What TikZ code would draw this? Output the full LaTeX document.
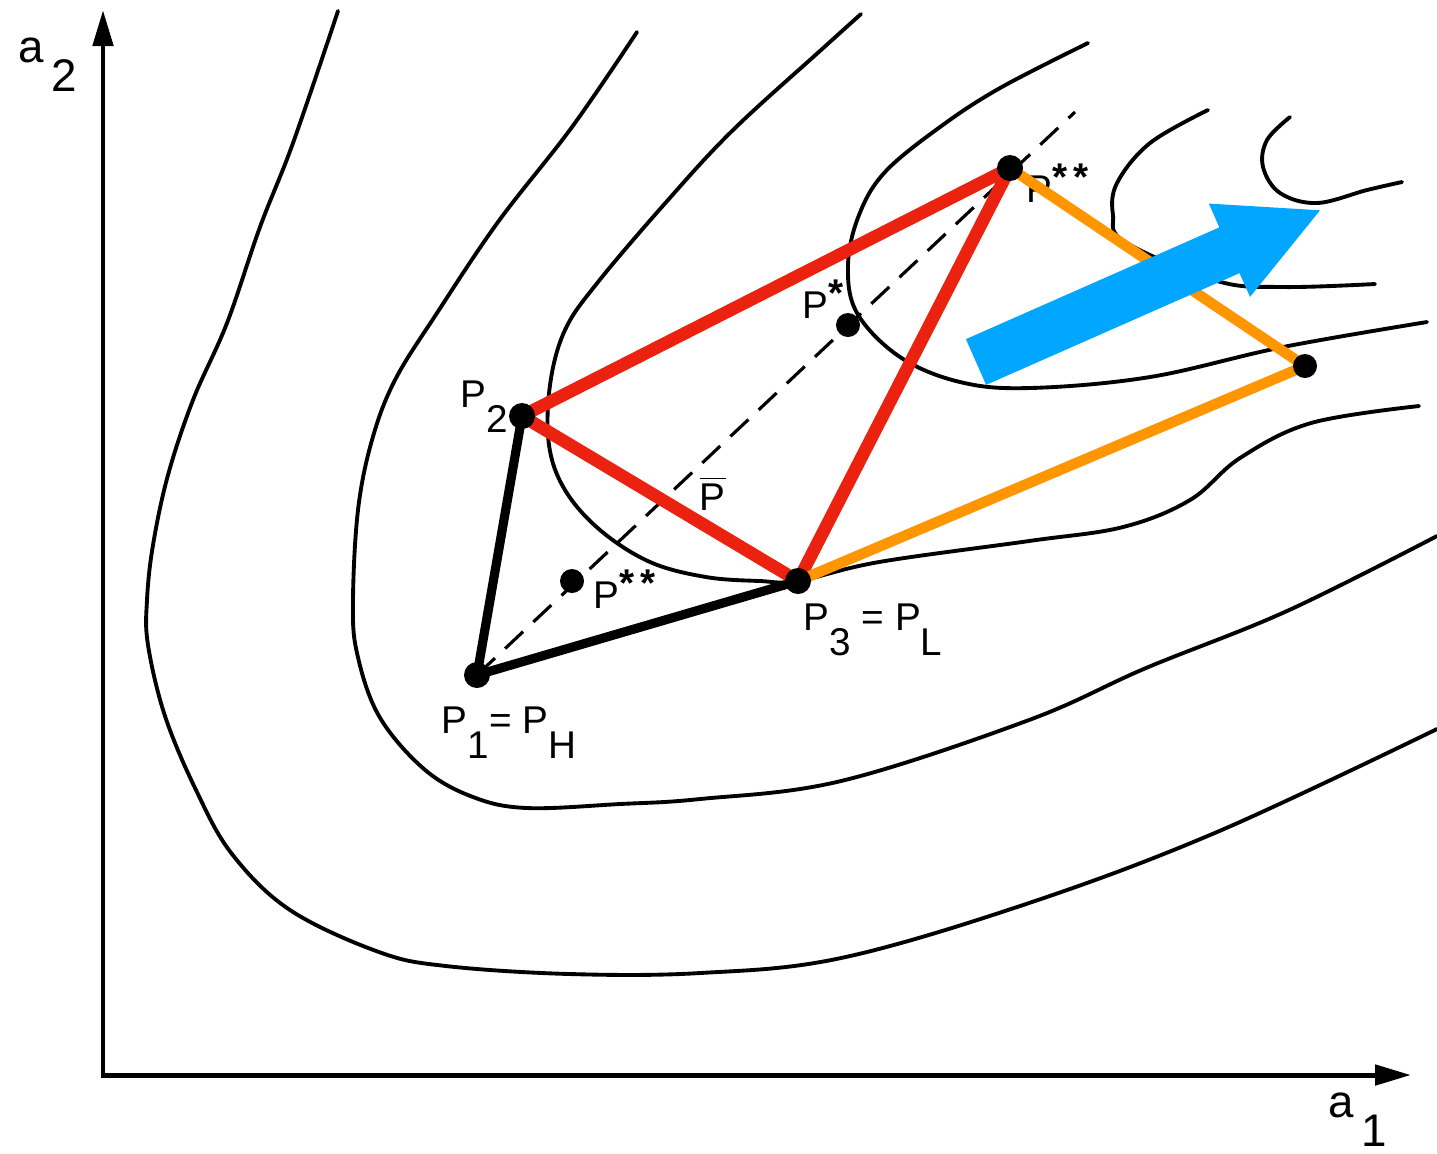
\documentclass[tikz,border=0pt]{standalone}
\usepackage{fontspec}
\setmainfont{Liberation Sans}
\usetikzlibrary{arrows.meta}

\definecolor{rotlinie}{RGB}{236,34,16}
\definecolor{orangelinie}{RGB}{255,150,0}
\definecolor{blaupfeil}{RGB}{0,166,255}

\newcommand{\tief}[1]{\raisebox{-0.65em}{#1}}
\newcommand{\stern}{\raisebox{0.3em}{\bfseries *}}

\begin{document}
\begin{tikzpicture}[x=0.01cm, y=-0.01cm,
    hoehe/.style={line width=1.1pt, line cap=round},
    punkt/.style={circle, fill=black, inner sep=0pt, minimum size=2.6mm},
    marke/.style={font=\fontsize{11}{13}\selectfont, anchor=base west, inner sep=0pt},
    achsmarke/.style={font=\fontsize{13}{15}\selectfont, anchor=base west, inner sep=0pt}]
\useasboundingbox (0,0) rectangle (1437,1153);

% Achsen:
\coordinate (yende) at (103,10);
\coordinate (ursprung) at (103,1075);
\coordinate (xende) at (1411,1075);
\draw[line width=1.4pt, {Triangle[length=3.6mm,width=2mm]}-{Triangle[length=3.6mm,width=2mm]}] (yende) -- (ursprung) -- (xende);
\node[achsmarke] (a2) at (18,62) {a\tief{\,2}};
\node[achsmarke] (a1) at (1328,1117) {a\tief{\,1}};

% Hoehenlinien (von aussen nach innen):
\draw[hoehe] plot[smooth, tension=0.6] coordinates {(338,11) (293,143) (260,227) (227,323) (193,400) (168,475) (153,545) (147,600) (148,645) (165,716) (196,790) (232,854) (290,910) (379,952) (446,966) (570,974) (700,973) (841,958) (1029,903) (1217,832) (1437,729)}; % erste Linie
\draw[hoehe] plot[smooth, tension=0.6] coordinates {(637,32) (572,127) (498,222) (437,313) (395,380) (372,440) (358,510) (353,600) (357,653) (379,716) (424,769) (473,797) (527,808) (620,804) (700,799) (841,781) (1029,720) (1146,668) (1287,611) (1437,536)}; % zweite Linie
\draw[hoehe] plot[smooth, tension=0.6] coordinates {(861,14) (821,50) (733,130) (668,200) (598,282) (565,330) (550,385) (549,445) (565,490) (600,530) (650,562) (706,577) (760,581) (798,581) (879,562) (1029,541) (1123,527) (1190,500) (1240,458) (1311,423) (1419,406)}; % dritte Linie
\draw[hoehe] plot[smooth, tension=0.6] coordinates {(1088,43) (1000,88) (940,127) (885,172) (859,215) (848,265) (857,313) (900,357) (960,382) (1030,388) (1150,377) (1283,347) (1427,322)}; % vierte Linie
\draw[hoehe] plot[smooth, tension=0.6] coordinates {(1208,110) (1150,143) (1117,183) (1113,215) (1125,242) (1217,281) (1283,287) (1375,284)}; % fuenfte Linie
\draw[hoehe] plot[smooth, tension=0.6] coordinates {(1290,117) (1267,140) (1263,167) (1280,193) (1317,203) (1367,190) (1402,182)}; % innerste Linie

% Eckpunkte:
\coordinate (p1) at (477,675);
\coordinate (p2) at (522,416);
\coordinate (p3) at (798,581);
\coordinate (pr) at (1010,168); % reflektierter Punkt
\coordinate (pe) at (1305,366); % expandierter Punkt
\coordinate (pstern) at (848,325);
\coordinate (pzwei) at (572,581);
\coordinate (strichende) at (1075,112);

% Beschriftungen:
\node[marke] (l2) at (460,407) {P\tief{2}};
\node[marke] (l1) at (441,733) {P\tief{1}= P\tief{H}};
\node[marke] (l3) at (803,630) {P\tief{3} = P\tief{L}};
\node[marke] (lq) at (699,510) {$\overline{\mbox{P}}$};
\node[marke] (ls) at (802,318) {P\stern};
\node[marke] (lz) at (593,608) {P\stern\,\stern};
\node[marke] (lr) at (1026,202) {P\stern\,\stern};

% Simplex:
\draw[line width=0.9pt, dash pattern=on 7pt off 4pt] (p1) -- (strichende);
\draw[line width=2.6pt, line join=round] (p2) -- (p1) -- (p3);
\draw[line width=3.6pt, rotlinie, line join=round] (p3) -- (p2) -- (pr) -- cycle;
\draw[line width=3pt, orangelinie, line join=round] (pr) -- (pe) -- (p3);

% Richtungspfeil:
\fill[blaupfeil, shift={(976,362)}, rotate=23.8] (0,-25) -- (277,-25) -- (277,-51) -- (376,0) -- (277,51) -- (277,25) -- (0,25) -- cycle;

% Punkte:
\node[punkt] (d1) at (p1) {};
\node[punkt] (d2) at (p2) {};
\node[punkt] (d3) at (p3) {};
\node[punkt] (dr) at (pr) {};
\node[punkt, minimum size=2.4mm] (de) at (pe) {};
\node[punkt, minimum size=2.4mm] (ds) at (pstern) {};
\node[punkt, minimum size=2.4mm] (dz) at (pzwei) {};
\end{tikzpicture}
\end{document}
